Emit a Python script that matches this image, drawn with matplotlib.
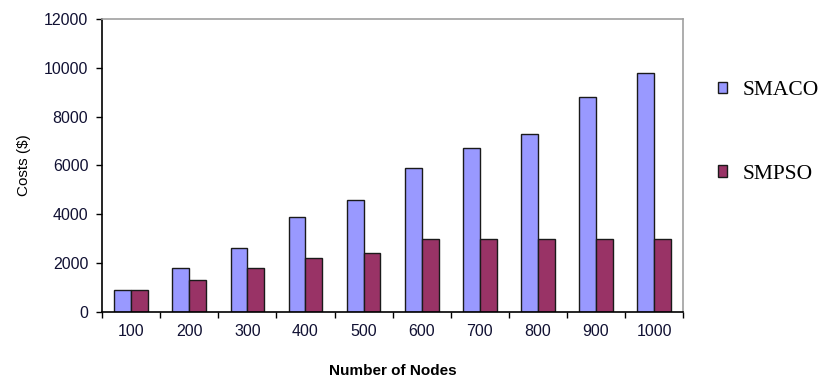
import numpy as np
import matplotlib.pyplot as plt

# data
nodes = ['100', '200', '300', '400', '500', '600', '700', '800', '900', '1000']
smaco = [900, 1800, 2600, 3900, 4600, 5900, 6700, 7300, 8800, 9800]
smpso = [900, 1300, 1800, 2200, 2400, 3000, 3000, 3000, 3000, 3000]

plt.rcParams['font.family'] = ['Liberation Sans', 'DejaVu Sans']

fig = plt.figure(figsize=(8.24, 3.78), dpi=100)
ax = fig.add_axes([0.124, 0.175, 0.705, 0.775])

x = np.arange(len(nodes))
w = 0.29
b1 = ax.bar(x - w / 2, smaco, w, color='#9999FF', edgecolor='#1a1a1a', linewidth=1.0, label='SMACO')
b2 = ax.bar(x + w / 2, smpso, w, color='#993366', edgecolor='#1a1a1a', linewidth=1.0, label='SMPSO')

ax.set_xlim(-0.5, len(nodes) - 0.5)
ax.set_ylim(0, 12000)
ax.set_yticks(range(0, 12001, 2000))
ax.set_xticks(x)
ax.set_xticklabels(nodes)
ax.set_xticks(np.arange(-0.5, len(nodes), 1), minor=True)
ax.tick_params(axis='x', which='major', length=0, pad=9, labelsize=11.5)
ax.tick_params(axis='x', which='minor', length=4, direction='out', width=1)
ax.tick_params(axis='y', length=4, direction='out', labelsize=11.5, width=1, pad=6)
for lbl in ax.get_xticklabels() + ax.get_yticklabels():
    lbl.set_color('#111133')

for s in ['left', 'bottom']:
    ax.spines[s].set_color('black')
    ax.spines[s].set_linewidth(1.2)
for s in ['top', 'right']:
    ax.spines[s].set_color('#a0a0a0')
    ax.spines[s].set_linewidth(1.2)

ax.set_xlabel('Number of Nodes', fontsize=11, fontweight='bold', labelpad=18)
ax.set_ylabel('Costs ($)', fontsize=11, labelpad=9)

leg = fig.legend(handles=[b1, b2], loc='center left', bbox_to_anchor=(0.871, 0.65),
                 frameon=False, prop={'family': 'Liberation Serif', 'size': 15.5},
                 borderpad=0, borderaxespad=0,
                 handlelength=0.45, handleheight=0.45, labelspacing=3.0, handletextpad=0.7)

fig.savefig('out.png', dpi=100)
